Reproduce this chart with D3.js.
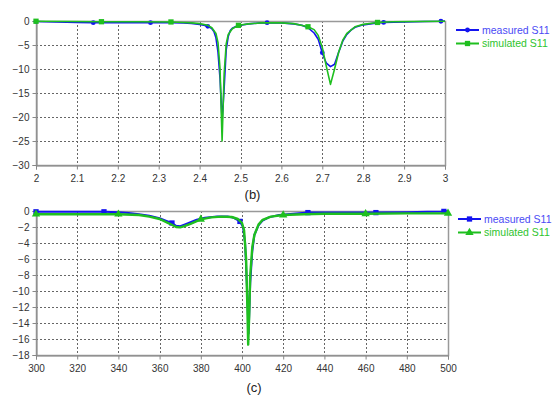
<!DOCTYPE html>
<html>
<head>
<meta charset="utf-8">
<title>S11</title>
<script src="https://d3js.org/d3.v7.min.js"></script>
<style>
  body { margin: 0; background: #fff; }
  svg text { font-family: "Liberation Sans", Arial, sans-serif; }
  .grid line { stroke: #666; stroke-dasharray: 2,2; }
  .axis path, .axis line { stroke: #888; }
  .axis text { fill: #333; font-size: 10px; }
</style>
</head>
<body>
<div id="chart"></div>
<script>
// ---- panel (b): 2 - 3 GHz ----
let bMeasX = [2.00, 2.05, 2.10, 2.14, 2.20, 2.28, 2.33, 2.36, 2.38, 2.40, 2.41, 2.42, 2.43, 2.435, 2.44, 2.445, 2.45, 2.455, 2.46, 2.465, 2.47, 2.475, 2.48, 2.49, 2.50, 2.52, 2.55, 2.565, 2.60, 2.63, 2.65, 2.665, 2.68, 2.69, 2.70, 2.705, 2.71, 2.72, 2.73, 2.74, 2.75, 2.76, 2.77, 2.78, 2.80, 2.83, 2.85, 2.90, 2.95, 2.99, 3.00];
let bMeasY = [-0.1, -0.2, -0.3, -0.35, -0.35, -0.35, -0.35, -0.4, -0.5, -0.7, -0.9, -1.1, -1.6, -2.2, -3.5, -6.5, -12, -20.8, -14, -6, -3.2, -2.0, -1.5, -1.1, -0.9, -0.6, -0.4, -0.35, -0.4, -0.6, -0.9, -1.4, -2.5, -3.8, -6.6, -7.8, -8.8, -9.5, -9.0, -6.5, -4.2, -2.8, -1.9, -1.3, -0.8, -0.45, -0.3, -0.2, -0.1, -0.05, 0];
let bMeasMarks = [2.00, 2.14, 2.28, 2.42, 2.565, 2.70, 2.85, 2.99];

let bSimX = [2.00, 2.10, 2.16, 2.25, 2.33, 2.36, 2.38, 2.40, 2.42, 2.43, 2.44, 2.445, 2.45, 2.455, 2.46, 2.465, 2.47, 2.48, 2.495, 2.52, 2.55, 2.60, 2.63, 2.665, 2.68, 2.69, 2.70, 2.71, 2.72, 2.73, 2.74, 2.75, 2.76, 2.78, 2.80, 2.835, 2.87, 2.92, 3.00];
let bSimY = [-0.05, -0.1, -0.15, -0.15, -0.2, -0.3, -0.4, -0.55, -0.9, -1.4, -2.6, -4.5, -10, -25, -11, -4.8, -2.8, -1.6, -0.9, -0.6, -0.4, -0.4, -0.55, -1.2, -1.8, -3.0, -5.5, -9.5, -13.2, -10, -6.5, -4.0, -2.6, -1.2, -0.7, -0.3, -0.15, -0.1, -0.05];
let bSimMarks = [2.00, 2.16, 2.33, 2.495, 2.665, 2.835];

let bXTicks = [2, 2.1, 2.2, 2.3, 2.4, 2.5, 2.6, 2.7, 2.8, 2.9, 3];
let bYTicks = [0, -5, -10, -15, -20, -25, -30];

// ---- panel (c): 300 - 500 MHz ----
let cMeasX = [300, 310, 320, 333, 340, 345, 350, 355, 360, 363, 366, 368, 370, 372, 375, 378, 382, 388, 393, 396, 399, 400.5, 401.5, 402.5, 403.2, 404, 405, 406, 408, 410, 413, 418, 425, 432, 445, 465, 480, 490, 498, 500];
let cMeasY = [-0.1, -0.1, -0.1, -0.1, -0.15, -0.25, -0.4, -0.6, -0.9, -1.2, -1.5, -1.85, -1.9, -1.7, -1.4, -1.1, -0.85, -0.7, -0.7, -0.85, -1.3, -2, -4, -10, -15.3, -9, -5, -3, -1.8, -1.2, -0.8, -0.5, -0.35, -0.2, -0.2, -0.2, -0.15, -0.1, -0.05, 0];
let cMeasMarks = [300, 333, 366, 399, 432, 465, 498];

let cSimX = [300, 320, 340, 350, 355, 360, 365, 368, 370, 372, 375, 380, 385, 390, 395, 398, 400, 401, 402, 402.6, 403, 403.5, 404, 405, 406, 408, 410, 414, 420, 430, 440, 460, 480, 500];
let cSimY = [-0.4, -0.4, -0.4, -0.5, -0.7, -1.0, -1.6, -2.0, -2.05, -1.9, -1.6, -1.05, -0.8, -0.7, -0.75, -1.0, -1.5, -2.4, -6, -12, -16.7, -13, -8, -4.5, -3, -1.7, -1.1, -0.7, -0.5, -0.4, -0.35, -0.35, -0.3, -0.3];
let cSimMarks = [300, 340, 380, 420, 460, 500];

let cXTicks = [300, 320, 340, 360, 380, 400, 420, 440, 460, 480, 500];
let cYTicks = [0, -2, -4, -6, -8, -10, -12, -14, -16, -18];

let blue = "#1414f0";
let green = "#1fbf1f";

let svg = d3.select("#chart").append("svg")
    .attr("width", 553)
    .attr("height", 397);

function zip(xs, ys) {
    return xs.map(function(x, i) { return {x: x, y: ys[i]}; });
}

function panel(opts) {
    let x = d3.scaleLinear().domain(opts.xDomain).range([opts.left, opts.right]);
    let y = d3.scaleLinear().domain(opts.yDomain).range([opts.bottom, opts.top]);
    let g = svg.append("g");

    // grid
    let grid = g.append("g").attr("class", "grid");
    grid.selectAll(".gx").data(opts.xTicks.slice(1, -1)).enter().append("line")
        .attr("x1", function(d) { return Math.round(x(d)) + 0.5; })
        .attr("x2", function(d) { return Math.round(x(d)) + 0.5; })
        .attr("y1", opts.top).attr("y2", opts.bottom);
    grid.selectAll(".gy").data(opts.yTicks.slice(1, -1)).enter().append("line")
        .attr("y1", function(d) { return Math.round(y(d)) + 0.5; })
        .attr("y2", function(d) { return Math.round(y(d)) + 0.5; })
        .attr("x1", opts.left).attr("x2", opts.right);

    // frame
    g.append("rect")
        .attr("x", opts.left + 0.5).attr("y", opts.top + 0.5)
        .attr("width", opts.right - opts.left).attr("height", opts.bottom - opts.top)
        .attr("fill", "none").attr("stroke", "#999").attr("stroke-width", 1.5);

    g.append("g").attr("class", "axis")
        .attr("transform", "translate(0," + (opts.bottom + 0.5) + ")")
        .call(d3.axisBottom(x).tickValues(opts.xTicks).tickSize(4).tickPadding(5).tickFormat(d3.format("")));
    g.append("g").attr("class", "axis")
        .attr("transform", "translate(" + (opts.left + 0.5) + ",0)")
        .call(d3.axisLeft(y).tickValues(opts.yTicks).tickSize(4).tickPadding(3).tickFormat(d3.format("")));

    let line = d3.line()
        .x(function(d) { return x(d.x); })
        .y(function(d) { return y(d.y); });

    opts.series.forEach(function(s) {
        let data = zip(s.xs, s.ys);
        g.append("path").datum(data)
            .attr("d", line)
            .attr("fill", "none")
            .attr("stroke", s.color)
            .attr("stroke-width", s.width)
            .attr("stroke-linejoin", "round");
        let marks = data.filter(function(d) { return s.marks.indexOf(d.x) >= 0; });
        g.selectAll(null).data(marks).enter().append("path")
            .attr("transform", function(d) { return "translate(" + x(d.x) + "," + y(d.y) + ")"; })
            .attr("d", d3.symbol().type(s.symbol).size(s.symSize))
            .attr("fill", s.color);
    });

    // legend
    opts.series.forEach(function(s, i) {
        let ly = opts.legendY + i * 13.5;
        let lg = svg.append("g");
        lg.append("line")
            .attr("x1", opts.legendX).attr("x2", opts.legendX + 23)
            .attr("y1", ly).attr("y2", ly)
            .attr("stroke", s.color).attr("stroke-width", 2);
        lg.append("path")
            .attr("transform", "translate(" + (opts.legendX + 11.5) + "," + ly + ")")
            .attr("d", d3.symbol().type(s.symbol).size(s.symSize))
            .attr("fill", s.color);
        lg.append("text")
            .attr("x", opts.legendX + 26).attr("y", ly)
            .attr("dy", "0.35em")
            .attr("font-size", "10.5px")
            .attr("fill", s.textColor)
            .text(s.name);
    });

    svg.append("text")
        .attr("x", (opts.left + opts.right) / 2 + 12)
        .attr("y", opts.captionY)
        .attr("text-anchor", "middle")
        .attr("font-size", "13px")
        .attr("fill", "#222")
        .text(opts.caption);
}

panel({
    xDomain: [2, 3], yDomain: [-30, 0],
    left: 36, right: 445, top: 21, bottom: 165,
    xTicks: bXTicks, yTicks: bYTicks,
    legendX: 456, legendY: 30,
    caption: "(b)", captionY: 199,
    series: [
        {name: "measured S11", xs: bMeasX, ys: bMeasY, marks: bMeasMarks, color: blue, textColor: "#4a4af5", width: 1.6, symbol: d3.symbolCircle, symSize: 18},
        {name: "simulated S11", xs: bSimX, ys: bSimY, marks: bSimMarks, color: green, textColor: "#2ec42e", width: 1.6, symbol: d3.symbolSquare, symSize: 28}
    ]
});

panel({
    xDomain: [300, 500], yDomain: [-18, 0],
    left: 36, right: 448, top: 211, bottom: 355,
    xTicks: cXTicks, yTicks: cYTicks,
    legendX: 458, legendY: 219,
    caption: "(c)", captionY: 392,
    series: [
        {name: "measured S11", xs: cMeasX, ys: cMeasY, marks: cMeasMarks, color: blue, textColor: "#4a4af5", width: 2, symbol: d3.symbolSquare, symSize: 28},
        {name: "simulated S11", xs: cSimX, ys: cSimY, marks: cSimMarks, color: green, textColor: "#2ec42e", width: 2.4, symbol: d3.symbolTriangle, symSize: 30}
    ]
});
</script>
</body>
</html>
